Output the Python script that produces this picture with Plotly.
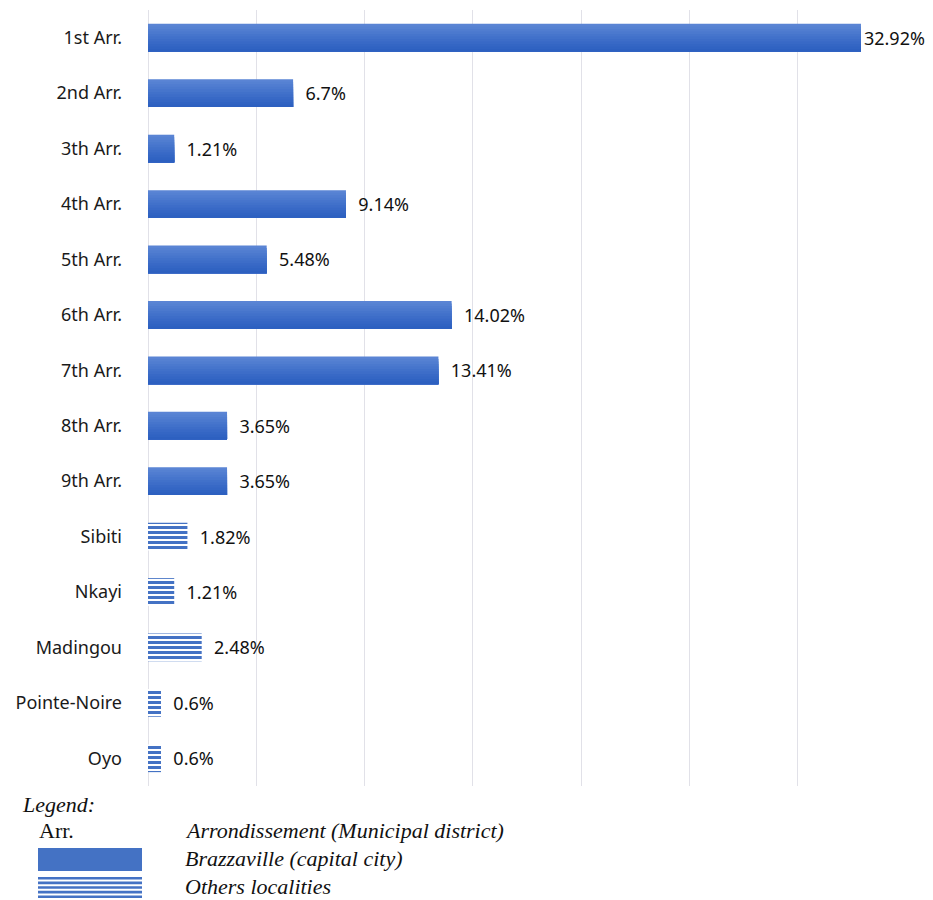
import plotly.graph_objects as go

categories = ["1st Arr.", "2nd Arr.", "3th Arr.", "4th Arr.", "5th Arr.", "6th Arr.",
              "7th Arr.", "8th Arr.", "9th Arr.", "Sibiti", "Nkayi", "Madingou",
              "Pointe-Noire", "Oyo"]
values = [32.92, 6.7, 1.21, 9.14, 5.48, 14.02, 13.41, 3.65, 3.65, 1.82, 1.21, 2.48, 0.6, 0.6]
labels = ["32.92%", "6.7%", "1.21%", "9.14%", "5.48%", "14.02%", "13.41%", "3.65%",
          "3.65%", "1.82%", "1.21%", "2.48%", "0.6%", "0.6%"]
groups = ["Brazzaville"] * 9 + ["Others"] * 5

legend_lines = ["Arrondissement (Municipal district)", "Brazzaville (capital city)", "Others localities"]

BAR_W = 0.5
fig = go.Figure()

brz_cat = [c for c, g in zip(categories, groups) if g == "Brazzaville"]
brz_val = [v for v, g in zip(values, groups) if g == "Brazzaville"]
oth_cat = [c for c, g in zip(categories, groups) if g == "Others"]
oth_val = [v for v, g in zip(values, groups) if g == "Others"]

# gradient simulation: overlapping slices from top (light) to bottom (dark)
grad = ["#5a84d4", "#5581d2", "#507dd0", "#4b79ce", "#4675cc", "#4171ca", "#3d6dc8",
        "#3869c6", "#3466c4", "#3063c2", "#2d60c0"]
n = len(grad)
sw = BAR_W / n
for i, col in enumerate(grad):
    fig.add_trace(go.Bar(
        y=brz_cat, x=brz_val, orientation="h",
        width=BAR_W - i * sw, offset=-BAR_W / 2 + i * sw,
        marker=dict(color=col, line=dict(width=0)),
        textposition="none", showlegend=False,
        hoverinfo="x+y" if i == 0 else "skip",
    ))

fig.add_trace(go.Bar(
    y=oth_cat, x=oth_val, orientation="h", width=BAR_W,
    marker=dict(color="white", line=dict(width=0),
                pattern=dict(shape="-", fgcolor="#4472c4", fgopacity=1, bgcolor="white",
                             size=5, solidity=0.6, fillmode="replace")),
    showlegend=False, hoverinfo="x+y",
))

# transparent label bars
templates = ["%{text}"] + ["  %{text}"] * (len(labels) - 1)
fig.add_trace(go.Bar(
    y=categories, x=values, orientation="h", width=BAR_W,
    marker=dict(color="rgba(0,0,0,0)", line=dict(width=0)),
    text=labels, texttemplate=templates, textposition="outside",
    textfont=dict(family="Noto Sans", size=18, color="#111"),
    cliponaxis=False, showlegend=False, hoverinfo="skip",
))

fig.update_layout(
    width=933, height=900,
    margin=dict(l=148, r=27, t=10, b=114),
    plot_bgcolor="white", paper_bgcolor="white",
    barmode="overlay", showlegend=False,
    xaxis=dict(range=[0, 35], dtick=5, showticklabels=False, showgrid=True,
               gridcolor="#e1e1e8", gridwidth=1, zeroline=True, zerolinecolor="#e1e1e8",
               zerolinewidth=1, showline=False, fixedrange=True),
    yaxis=dict(categoryorder="array", categoryarray=categories, autorange="reversed",
               showgrid=False, showline=False, ticks="",
               tickfont=dict(family="Noto Sans", size=18, color="#1a1a1a"),
               ticklabelstandoff=25),
)

def px(xp):
    return (xp - 148) / (906 - 148)
def py(yp):
    return (786 - yp) / (786 - 10)

serif = "Liberation Serif"
fig.add_annotation(text="<i>Legend:</i>", xref="paper", yref="paper", x=px(20), y=py(805),
                   xanchor="left", yanchor="middle", showarrow=False,
                   font=dict(family=serif, size=22, color="#111"))
fig.add_annotation(text="Arr.", xref="paper", yref="paper", x=px(37), y=py(830),
                   xanchor="left", yanchor="middle", showarrow=False,
                   font=dict(family=serif, size=22, color="#111"))
for k, t in enumerate(legend_lines):
    fig.add_annotation(text="<i>" + t + "</i>", xref="paper", yref="paper",
                       x=px(183), y=py(830 + k * 28), xanchor="left", yanchor="middle",
                       showarrow=False, font=dict(family=serif, size=22, color="#111"))

fig.add_shape(type="rect", xref="paper", yref="paper", x0=px(38), x1=px(142),
              y0=py(871), y1=py(848), fillcolor="#4472c4", line=dict(width=0))
for s in range(5):
    y_top = 877 + s * 4.6
    fig.add_shape(type="rect", xref="paper", yref="paper", x0=px(38), x1=px(142),
                  y0=py(y_top + 2.6), y1=py(y_top), fillcolor="#4472c4", line=dict(width=0))

fig.write_html("out.html")
